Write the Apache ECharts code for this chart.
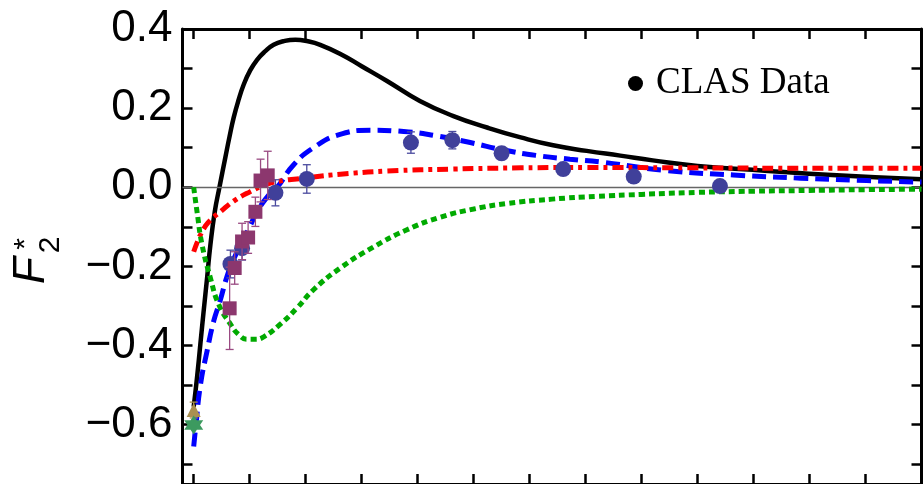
<!DOCTYPE html>
<html>
<head>
<meta charset="utf-8">
<script src="https://cdn.jsdelivr.net/npm/echarts@6/dist/echarts.min.js"></script>
<style>
  html, body { margin: 0; padding: 0; background: #fff; }
  #chart { width: 923px; height: 484px; }
</style>
</head>
<body>
<div id="chart"></div>
<script>
// Tick positions on the Q^2 axis and on the F2* axis
const xTicks = [0, 0.5, 1, 1.5, 2, 2.5, 3, 3.5, 4, 4.5, 5, 5.5, 6, 6.5];
const yTicks = [-0.7, -0.6, -0.5, -0.4, -0.3, -0.2, -0.1, 0, 0.1, 0.2, 0.3, 0.4];
const yLabelValues = [-0.6, -0.4, -0.2, 0, 0.2, 0.4];

// Model curves: [Q^2, F2*]
const curveBlack = [
  [0, -0.555], [0.03, -0.48], [0.06, -0.395], [0.089, -0.313], [0.12, -0.228],
  [0.149, -0.146], [0.188, -0.062], [0.23, 0], [0.283, 0.076], [0.32, 0.128],
  [0.357, 0.176], [0.4, 0.22], [0.446, 0.259], [0.5, 0.293], [0.566, 0.322],
  [0.64, 0.344], [0.714, 0.36], [0.8, 0.369], [0.908, 0.373], [1.02, 0.369],
  [1.13, 0.36], [1.31, 0.337], [1.5, 0.306], [1.73, 0.268], [2.02, 0.218],
  [2.32, 0.18], [2.62, 0.151], [2.92, 0.126], [3.21, 0.106], [3.51, 0.092],
  [3.81, 0.08], [4.1, 0.068], [4.5, 0.054], [5.1, 0.042], [5.7, 0.031], [6.5, 0.02]
];
const curveBlue = [
  [0, -0.655], [0.02, -0.6], [0.06, -0.5], [0.12, -0.413], [0.179, -0.338],
  [0.238, -0.285], [0.298, -0.225], [0.36, -0.18], [0.43, -0.14], [0.5, -0.1],
  [0.566, -0.062], [0.67, -0.02], [0.745, 0], [0.893, 0.057], [1.07, 0.1],
  [1.3, 0.133], [1.58, 0.144], [1.875, 0.141], [2.17, 0.13], [2.47, 0.113],
  [2.77, 0.094], [3.07, 0.08], [3.36, 0.071], [3.66, 0.063], [4.23, 0.042],
  [4.82, 0.031], [5.42, 0.023], [6.01, 0.017], [6.5, 0.013]
];
const curveRed = [
  [0, -0.163], [0.03, -0.14], [0.06, -0.12], [0.1, -0.1], [0.149, -0.083],
  [0.238, -0.062], [0.357, -0.035], [0.506, -0.011], [0.655, 0.008], [0.8, 0.017],
  [0.92, 0.021], [1.07, 0.026], [1.31, 0.033], [1.73, 0.041], [2.32, 0.046],
  [2.92, 0.049], [3.51, 0.05], [4.5, 0.049], [5.5, 0.048], [6.5, 0.048]
];
const curveGreen = [
  [0, 0], [0.03, -0.062], [0.075, -0.146], [0.149, -0.229], [0.223, -0.296],
  [0.328, -0.346], [0.4, -0.372], [0.477, -0.384], [0.55, -0.384], [0.625, -0.378],
  [0.774, -0.346], [0.923, -0.305], [1.07, -0.259], [1.31, -0.204], [1.6, -0.152],
  [1.9, -0.108], [2.2, -0.076], [2.5, -0.055], [2.8, -0.041], [3.2, -0.03],
  [3.6, -0.023], [4.0, -0.018], [4.5, -0.013], [5.0, -0.01], [5.5, -0.008],
  [6.0, -0.006], [6.5, -0.005]
];

// Measurements: [Q^2, F2*, error]
const clasData = [
  [0.328, -0.194, 0.035], [0.432, -0.154, 0.03], [0.73, -0.014, 0.033],
  [1.01, 0.021, 0.036], [1.94, 0.113, 0.027], [2.31, 0.119, 0.022],
  [2.75, 0.086, 0.015], [3.30, 0.046, 0.012], [3.93, 0.027, 0.012], [4.70, 0.003, 0.012]
];
const squareData = [
  [0.321, -0.306, 0.104], [0.366, -0.204, 0.041], [0.432, -0.137, 0.046],
  [0.486, -0.127, 0.04], [0.551, -0.062, 0.037], [0.597, 0.017, 0.054], [0.661, 0.03, 0.061]
];
const triangleData = [[0, -0.563, 0.02]];
const starData = [[0, -0.601]];

const fmt = v => (v < 0 ? '\u2212' : '') + Math.abs(v).toFixed(1);

function errorBars(color, cap) {
  return function (params, api) {
    const x = api.value(0), y = api.value(1), e = api.value(2);
    const top = api.coord([x, y + e]);
    const bot = api.coord([x, y - e]);
    const st = { stroke: color, lineWidth: 1.3 };
    return {
      type: 'group',
      children: [
        { type: 'line', shape: { x1: top[0], y1: top[1], x2: bot[0], y2: bot[1] }, style: st },
        { type: 'line', shape: { x1: top[0] - cap, y1: top[1], x2: top[0] + cap, y2: top[1] }, style: st },
        { type: 'line', shape: { x1: bot[0] - cap, y1: bot[1], x2: bot[0] + cap, y2: bot[1] }, style: st }
      ]
    };
  };
}

const axisLineStyle = { color: '#000', width: 3 };
const tickStyle = { color: '#000', width: 2.5 };

function frameAxis(extra) {
  return Object.assign({
    type: 'value',
    splitLine: { show: false },
    axisLine: { onZero: false, lineStyle: axisLineStyle },
    axisLabel: { show: false }
  }, extra);
}

function curve(data, z, lineStyle) {
  return { type: 'line', data: data, smooth: 0.5, showSymbol: false, z: z, lineStyle: lineStyle };
}

const chart = echarts.init(document.getElementById('chart'), null, { renderer: 'canvas' });
chart.setOption({
  animation: false,
  backgroundColor: '#fff',
  grid: { left: 182.5, top: 29, width: 739, height: 459 },
  legend: {
    left: 628, top: 65, padding: 0,
    itemWidth: 15, itemHeight: 15, icon: 'circle',
    data: [{ name: 'CLAS Data', itemStyle: { color: '#000' } }],
    textStyle: { fontFamily: 'Liberation Serif', fontSize: 37, color: '#000', padding: [0, 0, 0, 8] }
  },
  xAxis: [
    frameAxis({ min: -0.1, max: 6.5, position: 'bottom',
      axisTick: { inside: true, length: 10, lineStyle: tickStyle, customValues: xTicks } }),
    frameAxis({ min: -0.1, max: 6.5, position: 'top',
      axisTick: { inside: true, length: 10, lineStyle: tickStyle, customValues: xTicks } })
  ],
  yAxis: [
    frameAxis({ min: -0.75, max: 0.4, position: 'left',
      axisTick: { inside: true, length: 10, lineStyle: tickStyle, customValues: yTicks },
      axisLabel: {
        show: true, customValues: yLabelValues, formatter: fmt, margin: 10,
        fontFamily: 'Liberation Sans', fontSize: 44, color: '#000'
      } }),
    frameAxis({ min: -0.75, max: 0.4, position: 'right',
      axisTick: { inside: true, length: 10, lineStyle: tickStyle, customValues: yTicks } })
  ],
  graphic: [
    { type: 'text', x: 32, y: 284, rotation: Math.PI / 2,
      style: { text: 'F', font: 'italic 44px "Liberation Sans"', fill: '#000', align: 'left', verticalAlign: 'middle' } },
    { type: 'text', x: 26, y: 244, rotation: Math.PI / 2,
      style: { text: '*', font: '30px "Liberation Sans"', fill: '#000', align: 'center', verticalAlign: 'middle' } },
    { type: 'text', x: 51, y: 245, rotation: Math.PI / 2,
      style: { text: '2', font: '30px "Liberation Sans"', fill: '#000', align: 'center', verticalAlign: 'middle' } }
  ],
  series: [
    {
      type: 'line', data: [], silent: true, z: 1,
      markLine: {
        silent: true, symbol: 'none', label: { show: false },
        lineStyle: { color: '#666', width: 1.3, type: 'solid' },
        data: [{ yAxis: 0 }]
      }
    },
    curve(curveBlack, 2, { color: '#000', width: 4.5 }),
    curve(curveBlue, 3, { color: '#0000ff', width: 5, type: [14, 7], cap: 'butt' }),
    curve(curveRed, 4, { color: '#ff0000', width: 5, type: [11, 5, 4, 5], cap: 'butt' }),
    curve(curveGreen, 5, { color: '#00aa00', width: 5, type: [6, 4], cap: 'butt' }),
    { type: 'custom', data: clasData, renderItem: errorBars('#4a4a9e', 4), encode: { x: 0, y: 1 }, z: 6 },
    { name: 'CLAS Data', type: 'scatter', data: clasData, symbol: 'circle', symbolSize: 16, z: 7,
      encode: { x: 0, y: 1 }, itemStyle: { color: '#40409a', opacity: 1 } },
    { type: 'custom', data: squareData, renderItem: errorBars('#9a4a82', 4), encode: { x: 0, y: 1 }, z: 8 },
    { type: 'scatter', data: squareData, symbol: 'rect', symbolSize: 14, z: 9,
      encode: { x: 0, y: 1 }, itemStyle: { color: '#8c376e', opacity: 1 } },
    { type: 'custom', data: triangleData, renderItem: errorBars('#a8904e', 4), encode: { x: 0, y: 1 }, z: 10 },
    { type: 'scatter', data: triangleData, symbol: 'triangle', symbolSize: 14, z: 11,
      encode: { x: 0, y: 1 }, itemStyle: { color: '#aa9050', opacity: 1 } },
    { type: 'scatter', data: starData, z: 12,
      symbol: 'path://M0,-10 L8.66,5 L-8.66,5 Z M0,10 L-8.66,-5 L8.66,-5 Z',
      symbolSize: 19, itemStyle: { color: '#3c9a5f', opacity: 1 } }
  ]
});
</script>
</body>
</html>
